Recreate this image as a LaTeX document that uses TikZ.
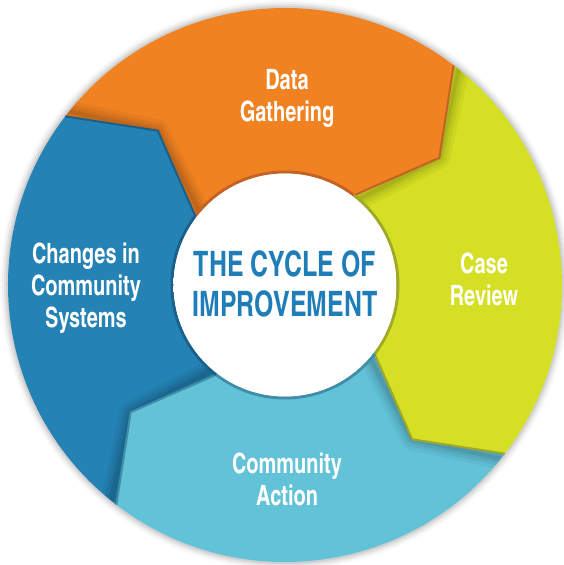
\documentclass[tikz,border=0pt]{standalone}
\usepackage{fontspec}
\newfontfamily\cyclefont{texgyreheroscn-bold.otf}[FakeStretch=0.87]
\usetikzlibrary{positioning}

\definecolor{dataorange}{RGB}{240,130,34}
\definecolor{dataedge}{RGB}{196,98,38}
\definecolor{caseyellow}{RGB}{213,223,35}
\definecolor{caseedge}{RGB}{160,168,40}
\definecolor{actionblue}{RGB}{98,194,216}
\definecolor{actionedge}{RGB}{62,142,168}
\definecolor{changeblue}{RGB}{36,130,180}
\definecolor{changeedge}{RGB}{26,96,140}
\definecolor{titleblue}{RGB}{31,125,183}

\pgfdeclareradialshading{hubglow}{\pgfpoint{0bp}{0bp}}{color(0bp)=(white); color(38bp)=(white); color(50bp)=(black!14)}

\begin{document}
\begin{tikzpicture}[x=1pt,y=1pt]
    \tikzstyle{seg label}=[text=white,align=center,font=\cyclefont\fontsize{28}{32}\selectfont]
    \tikzstyle{title}=[text=titleblue,align=center,font=\cyclefont\fontsize{35}{40}\selectfont]
    \useasboundingbox (-285,-280) rectangle (279,285);

    % soft shadow round the ring
    \foreach \r/\o in {285/0.02,283/0.04,281/0.06,279/0.08}
        \fill[black,opacity=\o] (0,0) circle (\r);

    % the four arrows, clockwise from the top
    \foreach \a/\c/\d in {52.5/dataorange/dataedge,-37.5/caseyellow/caseedge,-127.5/actionblue/actionedge,142.5/changeblue/changeedge} {
        \fill[\c] (\a:277) arc[start angle=\a,delta angle=90,radius=277] -- ({\a+77}:200) -- ({\a+90}:113)
            arc[start angle={\a+90},delta angle=-90,radius=113] -- ({\a-13}:200) -- cycle;
        \begin{scope}
            \clip (\a:277) arc[start angle=\a,delta angle=90,radius=277] -- ({\a+77}:200) -- ({\a+90}:113)
                arc[start angle={\a+90},delta angle=-90,radius=113] -- ({\a-13}:200) -- cycle;
            \foreach \w/\o in {22/0.04,15/0.05,9/0.06,4/0.07}
                \draw[black,opacity=\o,line width=\w,line join=round] ({\a+90}:290) -- ({\a+77}:200) -- ({\a+90}:100);
        \end{scope}
    }
    \foreach \a/\d in {52.5/dataedge,-37.5/caseedge,-127.5/actionedge,142.5/changeedge} {
        \draw[\d,line width=2,line join=round] (\a:277) -- ({\a-13}:200) -- (\a:113);
        \draw[\d,line width=3] (\a:113) arc[start angle=\a,delta angle=90,radius=113];
    }

    % the hub
    \shade[shading=hubglow] (0,0) circle (111.5);

    \node[title] (hub) at (0,1) {THE CYCLE OF\\IMPROVEMENT};
    \node[seg label] (data) at (2,187) {Data\\Gathering};
    \node[seg label] (case) at (199,6) {Case\\Review};
    \node[seg label] (action) at (2,-194) {Community\\Action};
    \node[seg label] (change) at (-199,-3) {Changes in\\Community\\Systems};
\end{tikzpicture}
\end{document}
